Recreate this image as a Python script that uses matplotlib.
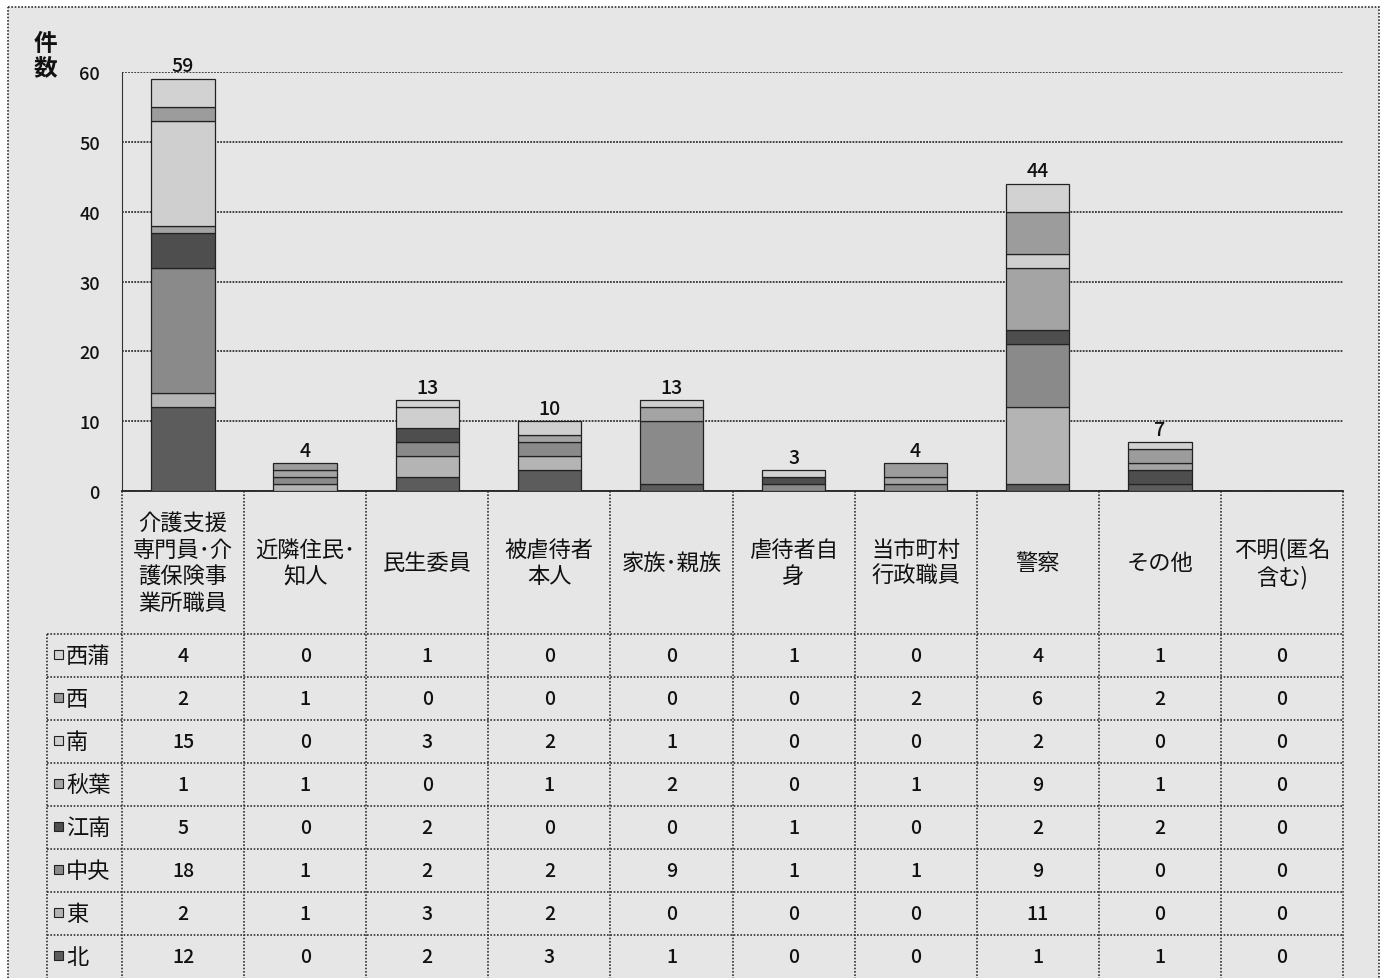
import matplotlib
matplotlib.use("Agg")
import matplotlib.pyplot as plt
import matplotlib.transforms as mtransforms
from matplotlib.patches import Rectangle
import numpy as np

plt.rcParams['font.family'] = ['Noto Sans CJK JP', 'DejaVu Sans']

categories = ["介護支援\n専門員･介\n護保険事\n業所職員", "近隣住民･\n知人", "民生委員",
              "被虐待者\n本人", "家族･親族", "虐待者自\n身", "当市町村\n行政職員",
              "警察", "その他", "不明(匿名\n含む)"]
regions = ["西蒲", "西", "南", "秋葉", "江南", "中央", "東", "北"]
v_nishikan = [4, 0, 1, 0, 0, 1, 0, 4, 1, 0]
v_nishi = [2, 1, 0, 0, 0, 0, 2, 6, 2, 0]
v_minami = [15, 0, 3, 2, 1, 0, 0, 2, 0, 0]
v_akiha = [1, 1, 0, 1, 2, 0, 1, 9, 1, 0]
v_konan = [5, 0, 2, 0, 0, 1, 0, 2, 2, 0]
v_chuo = [18, 1, 2, 2, 9, 1, 1, 9, 0, 0]
v_higashi = [2, 1, 3, 2, 0, 0, 0, 11, 0, 0]
v_kita = [12, 0, 2, 3, 1, 0, 0, 1, 1, 0]
values = [v_nishikan, v_nishi, v_minami, v_akiha, v_konan, v_chuo, v_higashi, v_kita]
colors = ["#d2d2d2", "#9c9c9c", "#cfcfcf", "#a4a4a4", "#4e4e4e", "#8a8a8a", "#b4b4b4", "#5c5c5c"]
yticks = [0, 10, 20, 30, 40, 50, 60]

W, H = 1385, 979
fig = plt.figure(figsize=(W / 100, H / 100), dpi=100)
fig.patch.set_facecolor("white")

# overlay in pixel coords
ov = fig.add_axes([0, 0, 1, 1], zorder=0)
ov.set_xlim(0, W)
ov.set_ylim(H, 0)
ov.axis("off")
ov.add_patch(Rectangle((8, 8), W - 14, H - 6, facecolor="#e6e6e6", edgecolor="#333333", lw=1.2, ls=(0, (1, 1))))

left, right, top, bottom = 122, 1343, 73, 492
ax = fig.add_axes([left / W, 1 - bottom / H, (right - left) / W, (bottom - top) / H], zorder=2)
ax.set_facecolor("none")
n = len(categories)
x = np.arange(n)
ax.set_xlim(-0.5, n - 0.5)
ax.set_ylim(0, 60)

base = np.zeros(n)
for reg, vals, col in zip(regions[::-1], values[::-1], colors[::-1]):
    vals = np.array(vals, dtype=float)
    m = vals > 0
    ax.bar(x[m], vals[m], bottom=base[m], width=0.52, color=col, edgecolor="#222222", linewidth=0.9, zorder=3)
    base += vals

for xi, t in zip(x, base):
    if t > 0:
        ax.text(xi, t + 0.5, f"{int(t)}", ha="center", va="bottom", fontsize=14, fontweight="medium", color="#111")

ax.set_yticks(yticks)
ax.yaxis.grid(True, color="#333333", lw=1.3, ls=(0, (1, 0.7)), zorder=1)
ax.set_axisbelow(True)
ax.tick_params(axis="y", length=0, pad=16, labelsize=13, colors="#111")
for lab in ax.get_yticklabels():
    lab.set_fontweight("medium")
ax.set_xticks([])
for s in ["top", "right"]:
    ax.spines[s].set_visible(False)
ax.spines["left"].set_color("#333")
ax.spines["bottom"].set_color("#222")
ax.spines["bottom"].set_linewidth(1.3)
ax.spines["left"].set_linestyle((0, (1, 1)))

ov.text(45, 56, "件\n数", ha="center", va="center", fontsize=17, fontweight="bold", linespacing=1.0, color="#111")

# table
tr = mtransforms.blended_transform_factory(ax.transData, ov.transData)
row_top = 635
row_h = (H - row_top) / len(regions)
lab_left = 47
lc = "#333333"
ls = (0, (1, 1))
for i in range(n + 1):
    ov.plot([i - 0.5, i - 0.5], [bottom, H], color=lc, lw=1.2, ls=ls, transform=tr)
ov.plot([lab_left, lab_left], [row_top, H], color=lc, lw=1.2, ls=ls)
for k in range(len(regions)):
    yy = row_top + k * row_h
    ov.plot([lab_left, right], [yy, yy], color=lc, lw=1.2, ls=ls)

for i, c in enumerate(categories):
    ov.text(i, (bottom + row_top) / 2, c, ha="center", va="center", fontsize=16, linespacing=1.2,
            color="#111", transform=tr)

for k, (reg, vals, col) in enumerate(zip(regions, values, colors)):
    yc = row_top + (k + 0.5) * row_h
    ov.add_patch(Rectangle((54, yc - 6), 9, 9, facecolor=col, edgecolor="#222", lw=0.8))
    ov.text(66, yc, reg, ha="left", va="center", fontsize=16, color="#111")
    for i, v in enumerate(vals):
        ov.text(i, yc, str(v), ha="center", va="center", fontsize=14, fontweight="medium", color="#111", transform=tr)

fig.savefig("out.png", dpi=100, facecolor=fig.get_facecolor())
